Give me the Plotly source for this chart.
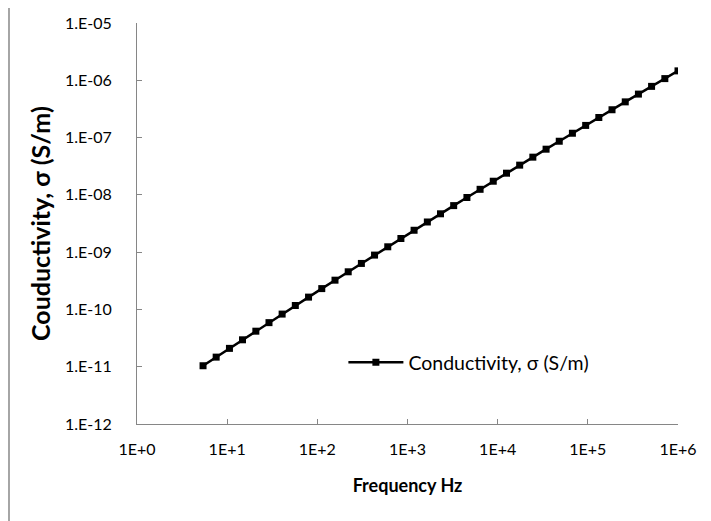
import plotly.graph_objects as go

# frequency (Hz) and conductivity (S/m)
frequency_hz = [
    5.40, 7.55, 10.6, 14.8, 20.8, 29.1, 40.7, 57.0, 79.9, 112,
    157, 220, 308, 431, 604, 845, 1183, 1660, 2323, 3252,
    4560, 6383, 8933, 12530, 17540, 24550, 34430, 48190, 67450, 94620,
    132400, 185400, 260000, 363900, 509300, 714500, 1000000,
]
conductivity = [
    1.04e-11, 1.47e-11, 2.09e-11, 2.95e-11, 4.17e-11, 5.88e-11, 8.29e-11,
    1.17e-10, 1.64e-10, 2.31e-10, 3.24e-10, 4.54e-10, 6.35e-10, 8.88e-10,
    1.24e-9, 1.73e-9, 2.41e-9, 3.36e-9, 4.67e-9, 6.49e-9, 9.00e-9,
    1.25e-8, 1.73e-8, 2.39e-8, 3.30e-8, 4.55e-8, 6.27e-8, 8.63e-8,
    1.19e-7, 1.63e-7, 2.24e-7, 3.06e-7, 4.20e-7, 5.74e-7, 7.83e-7,
    1.07e-6, 1.46e-6,
]

x_tickvals = [1, 1e1, 1e2, 1e3, 1e4, 1e5, 1e6]
x_ticktext = ["1E+0", "1E+1", "1E+2", "1E+3", "1E+4", "1E+5", "1E+6"]
y_tickvals = [1e-12, 1e-11, 1e-10, 1e-9, 1e-8, 1e-7, 1e-6, 1e-5]
y_ticktext = ["1.E-12", "1.E-11", "1.E-10", "1.E-09", "1.E-08",
              "1.E-07", "1.E-06", "1.E-05"]

FONT = "Lato, 'Open Sans', sans-serif"
AXIS_GREY = "#868686"

fig = go.Figure()
fig.add_trace(
    go.Scatter(
        x=frequency_hz,
        y=conductivity,
        mode="lines+markers",
        name="Conductivity, σ (S/m)",
        line={"color": "black", "width": 2.5},
        marker={"symbol": "square", "size": 7, "color": "black"},
    )
)

axis_common = dict(
    type="log",
    showgrid=False,
    zeroline=False,
    showline=True,
    linecolor=AXIS_GREY,
    linewidth=1,
    ticks="inside",
    ticklen=5,
    tickwidth=1,
    tickcolor=AXIS_GREY,
    tickfont={"family": FONT, "size": 16, "color": "black"},
    mirror=False,
    automargin=False,
)

# the page body has an 8px margin, so the figure is 8px smaller than the window
fig.update_layout(
    width=703,
    height=513,
    paper_bgcolor="white",
    plot_bgcolor="white",
    margin={"l": 129, "r": 33, "t": 15, "b": 97},
    showlegend=True,
    legend={
        "x": 0.3815,
        "y": 0.153,
        "xanchor": "left",
        "yanchor": "middle",
        "itemwidth": 55,
        "font": {"family": FONT, "size": 19.5, "color": "black"},
        "bgcolor": "rgba(0,0,0,0)",
    },
    xaxis=dict(
        axis_common,
        range=[0, 6],
        tickvals=x_tickvals,
        ticktext=x_ticktext,
        ticklabelstandoff=11,
        title={"text": "<b>Frequency Hz</b>", "font": {"family": FONT, "size": 18, "color": "black"}, "standoff": 22},
    ),
    yaxis=dict(
        axis_common,
        range=[-12, -5],
        tickvals=y_tickvals,
        ticktext=y_ticktext,
        ticklabelstandoff=21,
        ticklabeloverflow="allow",
        title={"text": "<b>Couductivity, σ (S/m)</b>", "font": {"family": FONT, "size": 25, "color": "black"}, "standoff": 7},
    ),
    shapes=[
        dict(
            type="rect",
            xref="paper",
            yref="paper",
            x0=-0.2366,
            x1=1.2,
            y0=-0.3,
            y1=1.0449,
            line={"color": "#898989", "width": 1.5},
            layer="below",
        )
    ],
)

fig.write_html("out.html")
